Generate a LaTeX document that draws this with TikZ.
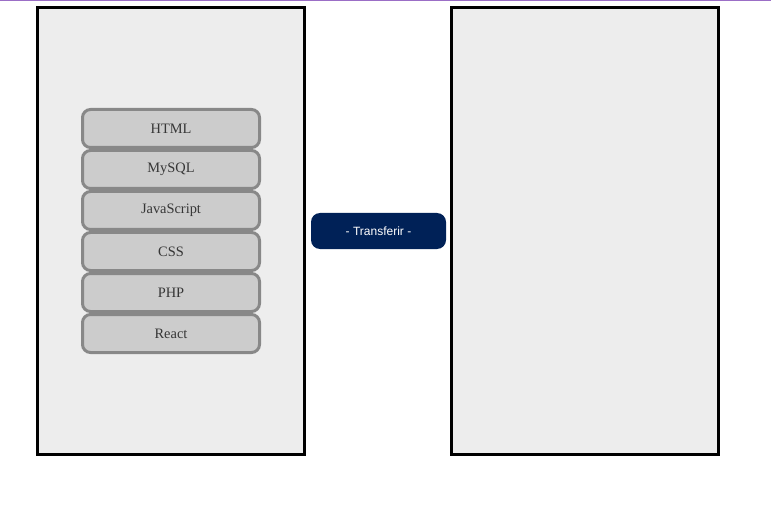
\documentclass[tikz,border=0pt]{standalone}
\usepackage{fontspec}
\setmainfont{Liberation Serif}
\newfontfamily\arialfont{Liberation Sans}
\usetikzlibrary{shapes}
\definecolor{panelgray}{HTML}{EDEDED}
\definecolor{itemgray}{HTML}{CCCCCC}
\definecolor{itemborder}{HTML}{888888}
\definecolor{itemtext}{HTML}{363636}
\definecolor{navy}{HTML}{002157}
\definecolor{topline}{HTML}{9B6EC6}
\tikzstyle{panel} = [rectangle, draw=black, line width=3pt, fill=panelgray,
    minimum width=267pt, minimum height=447pt, inner sep=0pt]
\tikzstyle{item} = [rectangle, draw=itemborder, line width=3pt, fill=itemgray,
    rounded corners=8pt, minimum width=177pt, minimum height=38pt, inner sep=0pt,
    text=itemtext, font=\fontsize{14.4}{16}\selectfont]
\tikzstyle{button} = [rectangle, fill=navy, rounded corners=9pt, minimum width=135pt,
    minimum height=36pt, inner sep=0pt, text=white, font=\arialfont\fontsize{12}{14}\selectfont]

\begin{document}
\begin{tikzpicture}[x=1pt, y=-1pt, node distance=41pt, auto]
	\useasboundingbox (0,0) rectangle (771,505);
	\draw [topline, line width=1.5pt] (0,0.5) -- (771,0.5);

		\node [panel] (source) at (170.5,231) {};
		\node [panel] (target) at (585,231) {};

		\node [item] (html) at (171,128.5) {HTML};
		\node [item, below of=html] (mysql) {MySQL};
		\node [item, below of=mysql] (js) {JavaScript};
		\node [item, below of=js] (css) {CSS};
		\node [item, below of=css] (php) {PHP};
		\node [item, below of=php] (react) {React};

		\node [button] (transfer) at (378.5,231) {- Transferir -};
	\end{tikzpicture}
\end{document}
